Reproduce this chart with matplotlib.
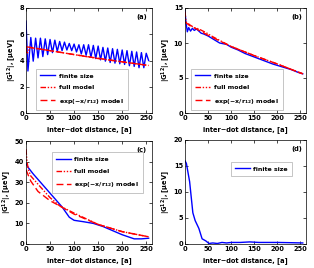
import matplotlib
matplotlib.use("Agg")
import matplotlib.pyplot as plt

# ---------------- data ----------------
# (a)
a_fin_x = [0, 4, 10, 15, 20, 25, 30, 35, 40, 45, 50, 55, 60, 65, 70, 75, 80, 85, 90, 95,
           100, 105, 110, 115, 120, 125, 130, 135, 140, 145, 150, 155, 160, 165, 170, 175,
           180, 185, 190, 195, 200, 205, 210, 215, 220, 225, 230, 235, 240, 245, 250, 255]
a_fin_y = [7.0, 3.2, 5.75, 3.95, 5.7, 4.2, 5.7, 4.3, 5.65, 4.45, 5.6, 4.6, 5.55, 4.7, 5.45,
           4.75, 5.4, 4.8, 5.3, 4.75, 5.25, 4.65, 5.2, 4.5, 5.2, 4.4, 5.2, 4.25, 5.15, 4.15,
           5.1, 4.05, 5.0, 3.95, 4.95, 3.85, 4.9, 3.8, 4.85, 3.75, 4.8, 3.7, 4.75, 3.6, 4.7,
           3.55, 4.65, 3.45, 4.6, 3.45, 4.55, 4.0]
a_full_x = [0, 2, 5, 8, 15, 50, 100, 150, 200, 255]
a_full_y = [5.0, 4.5, 4.7, 5.0, 4.95, 4.75, 4.45, 4.15, 3.9, 3.62]
a_exp_x = [0, 50, 100, 150, 200, 255]
a_exp_y = [5.05, 4.75, 4.45, 4.17, 3.9, 3.62]

# (b)
b_fin_x = [0, 2, 5, 8, 12, 16, 20, 25, 30, 35, 40, 50, 60, 75, 90, 100, 115, 130, 150,
           170, 190, 210, 230, 245, 255]
b_fin_y = [14.5, 13.0, 11.6, 12.2, 11.7, 12.1, 11.8, 12.0, 11.7, 11.4, 11.3, 11.0, 10.6,
           10.0, 9.8, 9.4, 9.0, 8.5, 8.0, 7.5, 7.0, 6.6, 6.2, 5.8, 5.6]
b_full_x = [0, 2, 5, 10, 15, 20, 30, 45, 60, 80, 100, 150, 200, 255]
b_full_y = [14.5, 13.0, 12.9, 12.6, 12.4, 12.2, 12.0, 11.5, 10.9, 10.2, 9.5, 8.2, 7.0, 5.6]
b_exp_x = [0, 10, 25, 50, 100, 150, 200, 255]
b_exp_y = [13.0, 12.5, 12.0, 11.1, 9.5, 8.2, 7.0, 5.6]

# (c)
c_fin_x = [0, 5, 15, 30, 45, 60, 75, 90, 100, 120, 140, 160, 180, 200, 225, 240, 255]
c_fin_y = [39.0, 37.0, 34.0, 30.0, 26.0, 22.0, 18.0, 13.0, 11.5, 10.8, 10.0, 8.5, 6.5,
           4.5, 2.5, 2.5, 2.8]
c_full_x = [0, 2, 5, 10, 25, 50, 70, 100, 150, 200, 255]
c_full_y = [46.0, 40.0, 36.0, 33.0, 29.0, 22.5, 18.5, 15.0, 9.5, 6.0, 3.5]
c_exp_x = [0, 10, 25, 50, 70, 100, 150, 200, 255]
c_exp_y = [36.0, 30.5, 25.5, 21.0, 18.5, 14.5, 9.5, 6.0, 3.5]

# (d)
d_fin_x = [0, 3, 10, 17, 22, 30, 37, 45, 52, 60, 70, 80, 90, 100, 120, 140, 160, 200, 230, 255]
d_fin_y = [16.0, 15.5, 12.0, 6.0, 4.5, 3.0, 1.0, 0.6, 0.1, 0.2, 0.1, 0.3, 0.2, 0.3, 0.3,
           0.4, 0.3, 0.3, 0.25, 0.2]

x_ticks = [0, 50, 100, 150, 200, 250]
lab_fin = "finite size"
lab_full = "full model"
lab_exp = "exp(\u2212x/r$_{\\mathbf{12}}$) model"
xlabel = "inter\u2212dot distance, [a]"
ylabel = "|G$^{\\mathbf{12}}$|, [\u03bceV]"

# ---------------- figure ----------------
fig = plt.figure(figsize=(3.14, 2.68), dpi=100)
W, H = 314, 268

def mkax(l, t, r, b):
    return fig.add_axes([l / W, (H - b) / H, (r - l) / W, (b - t) / H])

axA = mkax(26, 8, 152, 113)
axB = mkax(185, 8, 306, 113)
axC = mkax(26, 141, 152, 244)
axD = mkax(185, 140, 306, 244)

fs = 4.8
lfs = 4.5
lw = 1.0
blue = (0, 0, 1)
red = (1, 0, 0)
dashdot = (0, (4, 1.2, 1, 1.2, 1, 1.2))
dashed = (0, (5, 2.5))

def style(ax, yt, ylim, tag, tagx=0.92):
    ax.set_xlim(0, 262)
    ax.set_ylim(*ylim)
    ax.set_xticks(x_ticks)
    ax.set_yticks(yt)
    ax.tick_params(direction="in", length=2, width=0.5, labelsize=fs, pad=1.5,
                   top=True, right=True)
    for lab in ax.get_xticklabels() + ax.get_yticklabels():
        lab.set_fontweight("bold")
    for s in ax.spines.values():
        s.set_linewidth(0.5)
    ax.set_xlabel(xlabel, fontsize=fs, fontweight="bold", labelpad=3.5)
    ax.set_ylabel(ylabel, fontsize=fs, fontweight="bold", labelpad=0.5)
    ax.text(tagx, 0.91, tag, transform=ax.transAxes, ha="center", va="center",
            fontsize=fs, fontweight="bold")

def leg(ax, anchor, loc):
    l = ax.legend(loc=loc, bbox_to_anchor=anchor, frameon=True,
                  fancybox=False, edgecolor="0.6", handlelength=2.3,
                  borderpad=0.7, labelspacing=1.0, handletextpad=0.6,
                  borderaxespad=0.0,
                  prop={"size": lfs, "weight": "bold"})
    l.get_frame().set_linewidth(0.5)
    return l

# (a)
axA.plot(a_fin_x, a_fin_y, color=blue, lw=lw, label=lab_fin)
axA.plot(a_full_x, a_full_y, color=red, lw=lw, ls=dashdot, label=lab_full)
axA.plot(a_exp_x, a_exp_y, color=red, lw=lw, ls=dashed, label=lab_exp)
style(axA, [0, 2, 4, 6, 8], (0, 8), "(a)")
leg(axA, (0.08, 0.42), "upper left")

# (b)
axB.plot(b_fin_x, b_fin_y, color=blue, lw=lw, label=lab_fin)
axB.plot(b_full_x, b_full_y, color=red, lw=lw, ls=dashdot, label=lab_full)
axB.plot(b_exp_x, b_exp_y, color=red, lw=lw, ls=dashed, label=lab_exp)
style(axB, [0, 5, 10, 15], (0, 15), "(b)")
leg(axB, (0.05, 0.42), "upper left")

# (c)
axC.plot(c_fin_x, c_fin_y, color=blue, lw=lw, label=lab_fin)
axC.plot(c_full_x, c_full_y, color=red, lw=lw, ls=dashdot, label=lab_full)
axC.plot(c_exp_x, c_exp_y, color=red, lw=lw, ls=dashed, label=lab_exp)
style(axC, [0, 10, 20, 30, 40, 50], (0, 50), "(c)")
leg(axC, (0.205, 0.89), "upper left")

# (d)
axD.plot(d_fin_x, d_fin_y, color=blue, lw=lw, label=lab_fin)
style(axD, [0, 5, 10, 15, 20], (0, 20), "(d)")
leg(axD, (0.38, 0.79), "upper left")

fig.savefig("out.png", dpi=100)
